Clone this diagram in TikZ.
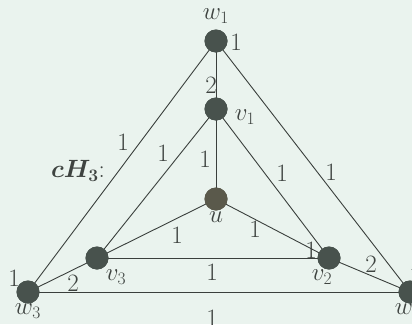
\RequirePackage{fix-cm}
\documentclass[tikz,border=0pt]{standalone}
\usepackage{amsmath,bm}
\usepackage{xcolor}
\definecolor{bg}{HTML}{EAF3EE}
\definecolor{nd}{HTML}{48524D}
\definecolor{ln}{HTML}{3A3F3C}
\definecolor{tx}{HTML}{3E4340}
\begin{document}
\begin{tikzpicture}[x=1pt,y=-1pt,
  vtx/.style={circle,fill=nd,draw=none,minimum size=23pt,inner sep=0pt},
  edge/.style={draw=ln,line width=0.9pt},
  lbl/.style={text=tx,font=\fontsize{25}{27}\selectfont,inner sep=0pt}]
\fill[bg] (0,0) rectangle (412,324);
\useasboundingbox (0,0) rectangle (412,324);
\node[vtx] (w1) at (216,41) {};
\node[vtx] (v1) at (216,109) {};
\node[vtx,fill=nd!85!brown] (u) at (216,199) {};
\node[vtx] (v3) at (97,258) {};
\node[vtx] (v2) at (329,258) {};
\node[vtx] (w3) at (28,292) {};
\node[vtx] (w2) at (410,292) {};
\path[edge] (w1.center) -- (v1.center);
\path[edge] (v1.center) -- (u.center);
\path[edge] (w1.center) -- (w3.center);
\path[edge] (w1.center) -- (w2.center);
\path[edge] (w3.center) -- (w2.center);
\path[edge] (v1.center) -- (v3.center);
\path[edge] (v1.center) -- (v2.center);
\path[edge] (v3.center) -- (v2.center);
\path[edge] (u.center) -- (v3.center);
\path[edge] (u.center) -- (v2.center);
\path[edge] (w3.center) -- (v3.center);
\path[edge] (v2.center) -- (w2.center);
\foreach \n in {w1,v1,v3,v2,w3,w2} \node[vtx] at (\n) {};
\node[vtx,fill=nd!85!brown] at (u) {};
% vertex labels
\node[lbl] (lw1) at (216,16) {$w_1$};
\node[lbl] (lv1) at (245,117) {$v_1$};
\node[lbl] (lu) at (216,217) {$u$};
\node[lbl] (lv3) at (116,277) {$v_3$};
\node[lbl] (lv2) at (322,277) {$v_2$};
\node[lbl] (lw3) at (28,311) {$w_3$};
\node[lbl] (lw2) at (408,311) {$w_2$};
\node[lbl] (lc) at (78,171) {$\bm{cH_3}$:};
% weights
\node[lbl] at (236,42) {1};
\node[lbl] at (211,85) {2};
\node[lbl] at (123,142) {1};
\node[lbl] at (163,153) {1};
\node[lbl] at (205,159) {1};
\node[lbl] at (282,173) {1};
\node[lbl] at (331,172) {1};
\node[lbl] at (177,235) {1};
\node[lbl] at (255,229) {1};
\node[lbl] at (311,250) {1};
\node[lbl] at (212,272) {1};
\node[lbl] at (371,264) {2};
\node[lbl] at (14,278) {1};
\node[lbl] at (73,283) {2};
\node[lbl] at (212,318) {1};
\node[lbl] at (415,276) {1};
\end{tikzpicture}
\end{document}
